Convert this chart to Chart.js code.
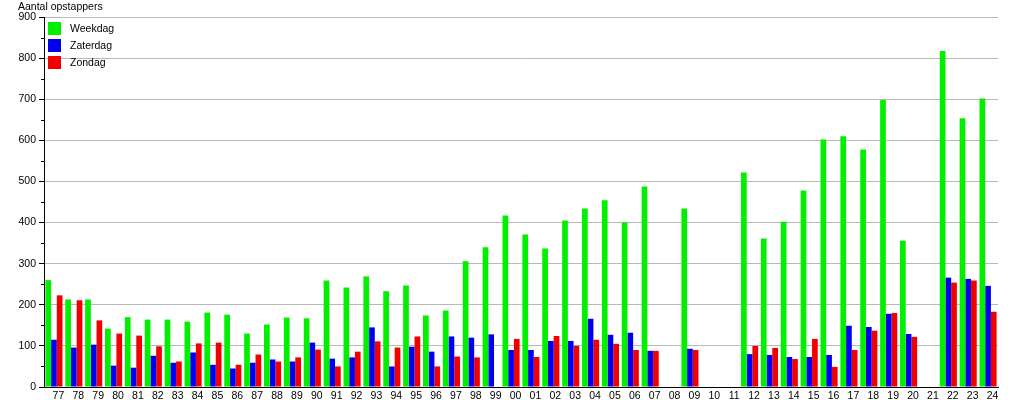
<!DOCTYPE html>
<html lang="nl">
<head>
  <meta charset="UTF-8">
  <title>Aantal opstappers</title>
  <script src="https://cdn.jsdelivr.net/npm/chart.js"></script>
  <style>
    body { margin: 0; background: #fff; }
  </style>
</head>
<body>
  <canvas id="chart" width="1015" height="400"></canvas>

  <script>
    // Jaren (77 t/m 24)
    const years = ['77','78','79','80','81','82','83','84','85','86','87','88','89','90','91','92','93','94','95','96','97','98','99',
                   '00','01','02','03','04','05','06','07','08','09','10','11','12','13','14','15','16','17','18','19','20','21','22','23','24'];

    const weekdag = [260, 213, 213, 142, 170, 164, 164, 159, 181, 176, 130, 152, 169, 167, 259, 242, 269, 233, 247, 174, 186, 306, 340,
                     417, 371, 337, 405, 434, 454, 400, 488, null, 434, null, null, 522, 361, 402, 478, 602, 610, 578, 698, 356, null, 817, 654, 702];
    const zaterdag = [115, 96, 103, 52, 47, 76, 59, 84, 54, 45, 59, 67, 62, 108, 69, 72, 145, 50, 98, 86, 123, 120, 128,
                      90, 90, 112, 112, 166, 127, 132, 88, null, 93, null, null, 80, 78, 73, 73, 78, 149, 146, 178, 129, null, 266, 263, 246];
    const zondag = [223, 211, 162, 130, 125, 99, 62, 106, 108, 54, 79, 62, 72, 91, 50, 86, 111, 96, 123, 50, 74, 72, null,
                    117, 73, 124, 100, 115, 105, 90, 88, null, 90, null, null, 100, 95, 68, 117, 49, 90, 137, 180, 122, null, 254, 259, 183];

    const yTicks = [0, 100, 200, 300, 400, 500, 600, 700, 800, 900];
    const minorTicks = [50, 150, 250, 350, 450, 550, 650, 750, 850];

    const FONT = 'Liberation Sans, Arial, sans-serif';

    // titel, legenda en kleine streepjes op de y-as
    const extras = {
      id: 'extras',
      afterDraw(chart) {
        const ctx = chart.ctx;
        const area = chart.chartArea;
        const y = chart.scales.y;
        ctx.save();

        // kleine streepjes
        ctx.strokeStyle = '#000';
        ctx.lineWidth = 1;
        minorTicks.forEach(v => {
          const py = Math.round(y.getPixelForValue(v)) + 0.5;
          ctx.beginPath();
          ctx.moveTo(area.left - 3, py);
          ctx.lineTo(area.left, py);
          ctx.stroke();
        });

        // as-titel
        ctx.font = '10.5px ' + FONT;
        ctx.fillStyle = '#000';
        ctx.textBaseline = 'middle';
        ctx.textAlign = 'left';
        ctx.fillText('Aantal opstappers', 18, 7);

        // legenda
        chart.data.datasets.forEach((ds, i) => {
          const top = 22 + i * 17;
          ctx.fillStyle = ds.backgroundColor;
          ctx.fillRect(48, top, 13, 13);
          ctx.fillStyle = '#000';
          ctx.fillText(ds.label, 70, top + 7);
        });
        ctx.restore();
      }
    };

    new Chart(document.getElementById('chart'), {
      type: 'bar',
      data: {
        labels: years,
        datasets: [
          { label: 'Weekdag', data: weekdag, backgroundColor: '#00f000' },
          { label: 'Zaterdag', data: zaterdag, backgroundColor: '#0000f0' },
          { label: 'Zondag', data: zondag, backgroundColor: '#f00000' }
        ]
      },
      options: {
        responsive: false,
        animation: false,
        devicePixelRatio: 1,
        layout: { padding: { top: 17, right: 17, left: 0, bottom: 0 } },
        datasets: {
          bar: { categoryPercentage: 0.86, barPercentage: 1.0 }
        },
        plugins: {
          legend: { display: false },
          tooltip: { enabled: false }
        },
        scales: {
          x: {
            grid: { display: false, drawTicks: false },
            border: { display: true, color: '#000', width: 1 },
            ticks: {
              autoSkip: false,
              maxRotation: 0,
              padding: 3,
              labelOffset: 4.5,
              color: '#000',
              font: { family: FONT, size: 10.5 }
            },
            afterFit(scale) { scale.height = 13; }
          },
          y: {
            min: 0,
            max: 900,
            afterBuildTicks(scale) { scale.ticks = yTicks.map(v => ({ value: v })); },
            grid: { color: '#b8b8b8', tickColor: '#000', tickLength: 5 },
            border: { display: true, color: '#000', width: 1 },
            ticks: {
              padding: 3,
              color: '#000',
              font: { family: FONT, size: 10.5 }
            },
            afterFit(scale) { scale.width = 44; }
          }
        }
      },
      plugins: [extras]
    });
  </script>
</body>
</html>
